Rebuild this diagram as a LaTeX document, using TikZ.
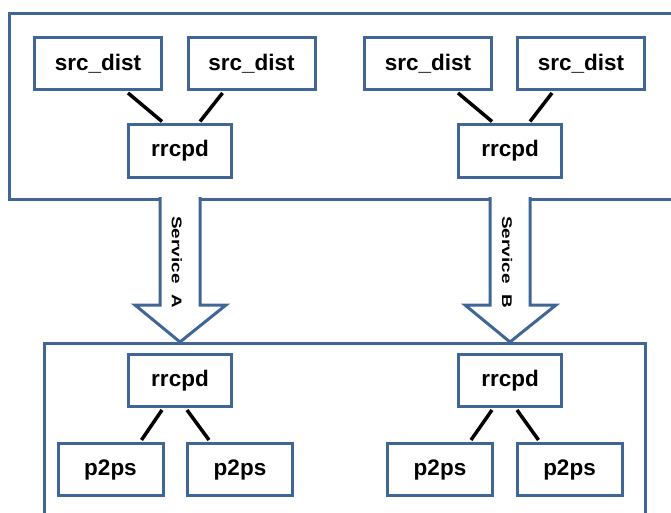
\documentclass[tikz,border=0pt]{standalone}
\usepackage{fontspec}
\setmainfont{Liberation Sans}
\usetikzlibrary{calc}
\definecolor{bordblue}{RGB}{64,102,152}
\tikzset{
  box/.style={draw=bordblue, line width=3pt, fill=white, inner sep=0pt,
    font=\fontsize{22.5}{26}\selectfont\bfseries},
  srcbox/.style={box, minimum width=127pt, minimum height=52pt},
  rbox/.style={box, minimum width=103pt, minimum height=52pt},
  pbox/.style={box, minimum width=105pt, minimum height=52pt},
  container/.style={draw=bordblue, line width=3pt},
  link/.style={draw=black, line width=3.5pt},
  bigarrow/.style={draw=bordblue, line width=3pt, fill=white},
  svclabel/.style={font=\fontsize{14}{16}\selectfont\bfseries, inner sep=0pt}
}
\begin{document}
\begin{tikzpicture}[x=1pt,y=-1pt]
\useasboundingbox[fill=white] (0,0) rectangle (671,513);
% containers
\draw[container] (680,14) -- (9,14) -- (9,199) -- (680,199);
\draw[container] (44,520) -- (44,343) -- (645,343) -- (645,520);
% block arrows
\path[bigarrow] (160,197) -- (160,305) -- (135,305) -- (180,342) -- (226,305) -- (200,305) -- (200,197);
\path[bigarrow] (490,197) -- (490,305) -- (465,305) -- (510,342) -- (556,305) -- (530,305) -- (530,197);
\node[svclabel, rotate=-90, xscale=1.35] (sa) at (177,262) {Service\ \ A};
\node[svclabel, rotate=-90, xscale=1.35] (sb) at (507,262) {Service\ \ B};
% top nodes
\node[srcbox] (s1) at (98,63.5) {src\_dist};
\node[srcbox] (s2) at (251.5,63.5) {src\_dist};
\node[rbox] (r1) at (180,151) {rrcpd};
\node[srcbox] (s3) at (428,63.5) {src\_dist};
\node[srcbox] (s4) at (581,63.5) {src\_dist};
\node[rbox] (r2) at (510,151) {rrcpd};
% bottom nodes
\node[rbox] (r3) at (180,380.5) {rrcpd};
\node[pbox] (p1) at (110.5,469.5) {p2ps};
\node[pbox] (p2) at (240,469.5) {p2ps};
\node[rbox] (r4) at (510,380.5) {rrcpd};
\node[pbox] (p3) at (440,469.5) {p2ps};
\node[pbox] (p4) at (569.5,469.5) {p2ps};
% links
\draw[link] ([xshift=30pt,yshift=-2pt]s1.south) -- ([xshift=-18pt,yshift=2pt]r1.north);
\draw[link] ([xshift=-29pt,yshift=-2pt]s2.south) -- ([xshift=20pt,yshift=2pt]r1.north);
\draw[link] ([xshift=30pt,yshift=-2pt]s3.south) -- ([xshift=-18pt,yshift=2pt]r2.north);
\draw[link] ([xshift=-29pt,yshift=-2pt]s4.south) -- ([xshift=20pt,yshift=2pt]r2.north);
\draw[link] ([xshift=-18pt,yshift=-2pt]r3.south) -- ([xshift=31pt,yshift=2pt]p1.north);
\draw[link] ([xshift=7pt,yshift=-2pt]r3.south) -- ([xshift=-31pt,yshift=2pt]p2.north);
\draw[link] ([xshift=-18pt,yshift=-2pt]r4.south) -- ([xshift=31pt,yshift=2pt]p3.north);
\draw[link] ([xshift=7pt,yshift=-2pt]r4.south) -- ([xshift=-31pt,yshift=2pt]p4.north);
\end{tikzpicture}
\end{document}
